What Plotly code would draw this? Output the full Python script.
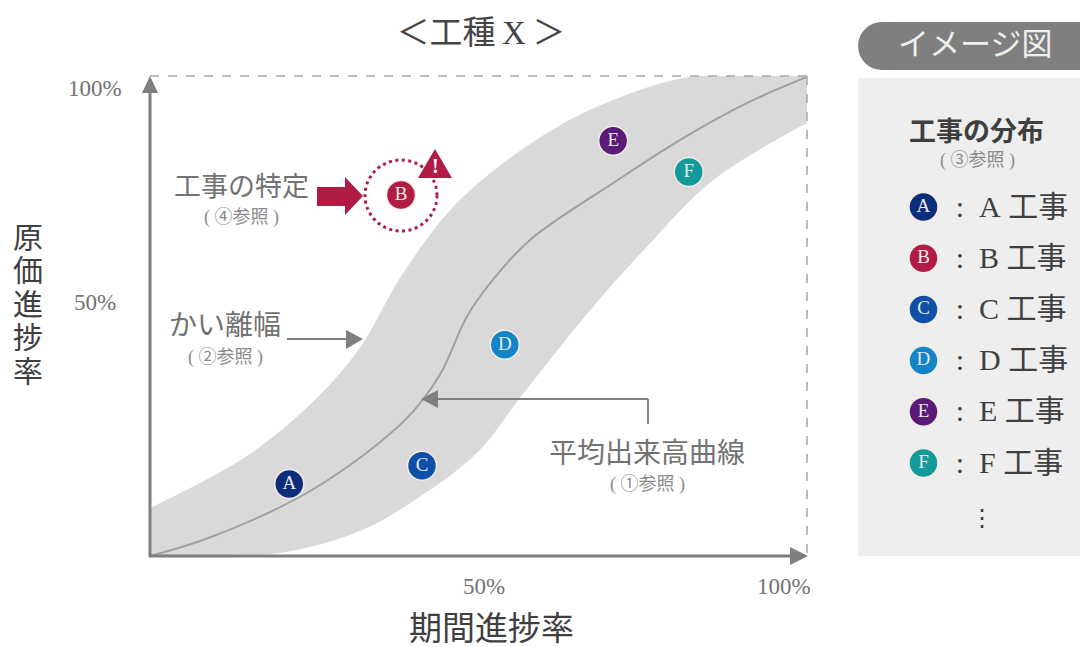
import plotly.graph_objects as go

W, H = 1080, 647
FONT = "Liberation Serif, Noto Sans CJK JP, sans-serif"
GRAY = "#7f7f7f"
TEXT = "#727272"
SUB = "#8a8a8a"
DARK = "#3f3f3f"
RED = "#b01c44"

# Average progress curve (% of period, % of cost)
mean_x = [0, 9.4, 24.7, 38.8, 44.1, 48.2, 51.8, 57.8, 70.5, 80.7, 90.9, 100]
mean_y = [0, 4, 13.8, 28.3, 37.7, 49.8, 56.9, 65.8, 77.7, 86.7, 94.4, 99.8]

# Band upper / lower edges
upper_x = [0, 14.5, 25.1, 32, 38.5, 47.2, 60.4, 70.5, 82.2, 100]
upper_y = [10, 20.6, 32.5, 43.5, 58.9, 74.2, 88.1, 95, 99.8, 100]
lower_x = [0, 12.2, 20.5, 32.3, 41.9, 50.2, 56.3, 67, 75.6, 85.7, 100]
lower_y = [0, 0.2, 0.8, 5.4, 13.1, 22.1, 32.9, 51.2, 64.4, 78.3, 90.2]

# Works
work_letters = ["A", "B", "C", "D", "E", "F"]
work_x = [21.2, 38.2, 41.4, 54, 70.5, 82]
work_y = [15, 75.2, 18.8, 44, 86.5, 80]
work_colors = ["#0b2d7c", "#b01c44", "#0f4fa8", "#1284c8", "#5a1a78", "#149a9a"]
legend_labels = [":\u00a0\u00a0A\u00a0工事", ":\u00a0\u00a0B\u00a0工事", ":\u00a0\u00a0C\u00a0工事",
                 ":\u00a0\u00a0D\u00a0工事", ":\u00a0\u00a0E\u00a0工事", ":\u00a0\u00a0F\u00a0工事"]
legend_rows = [0, 1, 2, 3, 4, 5]


def fx(p):
    return p / W


def fy(p):
    return 1 - p / H


def poly(points, color):
    d = "M " + " L ".join(f"{fx(x):.5f} {fy(y):.5f}" for x, y in points) + " Z"
    return dict(type="path", xref="paper", yref="paper", path=d,
                fillcolor=color, line=dict(width=0), layer="above")


def seg(x0, y0, x1, y1, color=GRAY, width=2, dash=None, layer="above"):
    return dict(type="line", xref="paper", yref="paper", x0=fx(x0), y0=fy(y0), x1=fx(x1), y1=fy(y1),
                line=dict(color=color, width=width, dash=dash), layer=layer)


def note(x, y, text, size, color=TEXT, anchor="center"):
    return dict(xref="paper", yref="paper", x=fx(x), y=fy(y), text=text, showarrow=False,
                xanchor=anchor, yanchor="middle", font=dict(family=FONT, size=size, color=color))


fig = go.Figure()

curve = dict(shape="spline", smoothing=1.0)
fig.add_trace(go.Scatter(x=lower_x, y=lower_y, mode="lines", line=dict(width=0, **curve),
                         hoverinfo="skip", showlegend=False))
fig.add_trace(go.Scatter(x=upper_x, y=upper_y, mode="lines", line=dict(width=0, **curve),
                         fill="tonexty", fillcolor="#d9d9d9", hoverinfo="skip", showlegend=False))
fig.add_trace(go.Scatter(x=mean_x, y=mean_y, mode="lines", line=dict(color="#a0a0a0", width=2, **curve),
                         showlegend=False))
fig.add_trace(go.Scatter(x=work_x, y=work_y, mode="markers+text", text=work_letters, textposition="middle center",
                         textfont=dict(family=FONT, size=19, color="#e8e8e8"),
                         marker=dict(size=29, color=work_colors, line=dict(color="#f3ece6", width=1.5)),
                         showlegend=False))

# Legend keys in the side panel
fig.add_trace(go.Scatter(x=[0.295] * 6, y=legend_rows, xaxis="x2", yaxis="y2", mode="markers+text",
                         text=work_letters, textposition="middle center",
                         textfont=dict(family=FONT, size=19, color="#e8e8e8"),
                         marker=dict(size=29, color=work_colors, line=dict(color="#f3ece6", width=1.5)),
                         showlegend=False))
fig.add_trace(go.Scatter(x=[0.44] * 6, y=[r + 0.04 for r in legend_rows], xaxis="x2", yaxis="y2", mode="text",
                         text=legend_labels, textposition="middle right",
                         textfont=dict(family=FONT, size=30, color=DARK), showlegend=False))

shapes = [
    # side panel
    dict(type="rect", xref="paper", yref="paper", x0=fx(858), y0=fy(556), x1=fx(1080), y1=fy(78),
         fillcolor="#eeeeee", line=dict(width=0), layer="below"),
    dict(type="rect", xref="paper", yref="paper", x0=fx(882), y0=fy(70), x1=fx(1100), y1=fy(22),
         fillcolor=GRAY, line=dict(width=0), layer="below"),
    dict(type="circle", xref="paper", yref="paper", x0=fx(858), y0=fy(70), x1=fx(906), y1=fy(22),
         fillcolor=GRAY, line=dict(width=0), layer="below"),
    # dashed frame
    seg(150, 76, 807, 76, "#a8a8a8", 1.5, "dash"),
    seg(807, 76, 807, 556, "#a8a8a8", 1.5, "dash"),
    # axes
    seg(150, 90, 150, 557, GRAY, 3),
    seg(149, 556, 795, 556, GRAY, 3),
    poly([(150, 76), (142, 93), (158, 93)], GRAY),
    poly([(808, 556), (790, 547), (790, 565)], GRAY),
    # red arrow
    poly([(317, 187), (345, 187), (345, 177), (363, 196), (345, 215), (345, 206), (317, 206)], RED),
    # target ring + warning
    dict(type="circle", xref="paper", yref="paper", x0=fx(365), y0=fy(231), x1=fx(437), y1=fy(160),
         line=dict(color=RED, width=3, dash="3px,3.5px"), layer="above"),
    poly([(435, 149), (418, 178), (452, 178)], RED),
    # band arrow
    seg(287, 339, 346, 339),
    poly([(363, 339), (346, 330), (346, 349)], GRAY),
    # mean-curve leader
    seg(648, 424, 648, 399),
    seg(648, 399, 437, 399),
    poly([(421, 399), (438, 390), (438, 408)], GRAY),
]

SUB_PAD = "\u00a0"
annotations = [
    note(95, 88, "100%", 23),
    note(95, 302, "50%", 23),
    note(484, 586, "50%", 23),
    note(784, 586, "100%", 23),
    note(491, 629, "期間進捗率", 33, DARK),
    note(241, 187, "工事の特定", 27),
    note(241, 217, f"({SUB_PAD}④参照{SUB_PAD})", 18, SUB),
    note(225, 325, "かい離幅", 28),
    note(225, 357, f"({SUB_PAD}②参照{SUB_PAD})", 18, SUB),
    note(647, 453, "平均出来高曲線", 28),
    note(647, 484, f"({SUB_PAD}①参照{SUB_PAD})", 18, SUB),
    note(975, 44, "イメージ図", 31, "#efefef"),
    note(976, 132, "<b>工事の分布</b>", 27, DARK),
    note(977, 161, f"({SUB_PAD}③参照{SUB_PAD})", 18, SUB),
    note(982, 518, "⋮", 24, DARK),
    note(435, 166, "<b>!</b>", 20, "#ffffff"),
]
for i, ch in enumerate("原価進捗率"):
    annotations.append(note(28, 237 + i * 33.6, ch, 30, DARK))

fig.update_layout(
    width=W, height=H, margin=dict(l=0, r=0, t=0, b=0),
    paper_bgcolor="white", plot_bgcolor="white", showlegend=False,
    title=dict(text="＜工種\u2009X\u2009＞", x=481 / W, y=fy(32), xanchor="center", yanchor="middle",
               font=dict(family=FONT, size=33, color="#444444")),
    xaxis=dict(domain=[fx(150), fx(807)], range=[0, 100], showgrid=False, zeroline=False, showticklabels=False,
               ticks="", showline=False),
    yaxis=dict(domain=[fy(556), fy(76)], range=[0, 100], showgrid=False, zeroline=False, showticklabels=False,
               ticks="", showline=False),
    xaxis2=dict(domain=[fx(858), 1], range=[0, 1], visible=False, anchor="y2"),
    yaxis2=dict(domain=[fy(556), fy(78)], range=[6.816, -2.52], visible=False, anchor="x2"),
    shapes=shapes, annotations=annotations,
)

fig.write_html("out.html", config=dict(displayModeBar=False),
               post_script="document.body.style.margin='0';")
